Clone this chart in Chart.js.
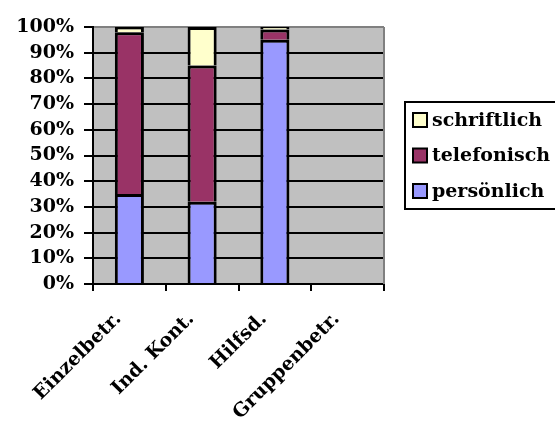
<!DOCTYPE html>
<html>
<head>
<meta charset="utf-8">
<script src="https://cdn.jsdelivr.net/npm/chart.js@4/dist/chart.umd.min.js"></script>
<style>
  html, body { margin: 0; padding: 0; background: #ffffff; }
  #wrap { width: 555px; height: 423px; }
</style>
</head>
<body>
<div id="wrap"><canvas id="c" width="555" height="423"></canvas></div>
<script>
// Kontaktarten je Angebot (Anteile in Prozent)
const categories = ['Einzelbetr.', 'Ind. Kont.', 'Hilfsd.', 'Gruppenbetr.'];
const persoenlich = [35, 32, 95, null];
const telefonisch = [63, 53, 4, null];
const schriftlich = [2, 15, 1, null];
const seriesNames = ['persönlich', 'telefonisch', 'schriftlich'];
const seriesColors = ['#9999FF', '#993366', '#FFFFCC'];
const yTickStep = 10;
const yMax = 100;

const FONT = '"DejaVu Serif", serif';
const FONT_SIZE = 19;

// grey plot background plus the grey right frame
const plotFrame = {
  id: 'plotFrame',
  beforeDraw(chart) {
    const { ctx, chartArea: a } = chart;
    ctx.save();
    ctx.fillStyle = '#C0C0C0';
    ctx.fillRect(a.left, a.top, a.right - a.left, a.bottom - a.top);
    ctx.restore();
  },
  beforeDatasetsDraw(chart) {
    const { ctx, chartArea: a } = chart;
    ctx.save();
    ctx.strokeStyle = '#808080';
    ctx.lineWidth = 2;
    ctx.beginPath();
    ctx.moveTo(a.right, a.top);
    ctx.lineTo(a.right, a.bottom);
    ctx.stroke();
    ctx.restore();
  }
};

// framed legend on the right, last series on top
const boxLegend = {
  id: 'boxLegend',
  afterDraw(chart) {
    const ctx = chart.ctx;
    const items = chart.data.datasets.slice().reverse();
    const x0 = 405, y0 = 102, w = 170, h = 107;
    ctx.save();
    ctx.lineWidth = 2;
    ctx.strokeStyle = '#000';
    ctx.strokeRect(x0, y0, w, h);
    ctx.font = 'bold ' + FONT_SIZE + 'px ' + FONT;
    ctx.textBaseline = 'middle';
    items.forEach((d, i) => {
      const cy = 120 + i * 35.5;
      ctx.fillStyle = d.backgroundColor;
      ctx.fillRect(413, cy - 7, 14, 14);
      ctx.strokeRect(413, cy - 7, 14, 14);
      ctx.fillStyle = '#000';
      ctx.fillText(d.label, 432, cy + 1);
    });
    ctx.restore();
  }
};

const seriesData = [persoenlich, telefonisch, schriftlich];

new Chart(document.getElementById('c'), {
  type: 'bar',
  data: {
    labels: categories,
    datasets: seriesNames.map((name, i) => ({
      label: name,
      data: seriesData[i],
      backgroundColor: seriesColors[i],
      borderColor: '#000',
      borderWidth: 3,
      inflateAmount: 0,
      barPercentage: 0.4,
      categoryPercentage: 1
    }))
  },
  options: {
    responsive: false,
    animation: false,
    events: [],
    layout: { padding: { top: 27, right: 171, left: 0, bottom: 0 } },
    plugins: {
      legend: { display: false },
      tooltip: { enabled: false }
    },
    scales: {
      x: {
        stacked: true,
        afterFit(s) { s.height = 139; },
        grid: {
          offset: true,
          drawOnChartArea: false,
          drawTicks: true,
          tickLength: 7,
          color: '#000',
          lineWidth: 2
        },
        border: { color: '#000', width: 2 },
        ticks: {
          minRotation: 45,
          maxRotation: 45,
          autoSkip: false,
          padding: 17,
          labelOffset: -11,
          color: '#000',
          font: { family: FONT, size: FONT_SIZE, weight: 'bold' }
        }
      },
      y: {
        stacked: true,
        min: 0,
        max: yMax,
        afterFit(s) { s.width = 93; },
        grid: {
          color: (c) => (c.tick && c.tick.value === yMax ? '#808080' : '#000'),
          lineWidth: 2,
          tickLength: 9,
          tickColor: '#000'
        },
        border: { color: '#000', width: 2 },
        ticks: {
          stepSize: yTickStep,
          autoSkip: false,
          padding: 10,
          color: '#000',
          font: { family: FONT, size: FONT_SIZE, weight: 'bold' },
          callback: (v) => v + '%'
        }
      }
    }
  },
  plugins: [plotFrame, boxLegend]
});
</script>
</body>
</html>
